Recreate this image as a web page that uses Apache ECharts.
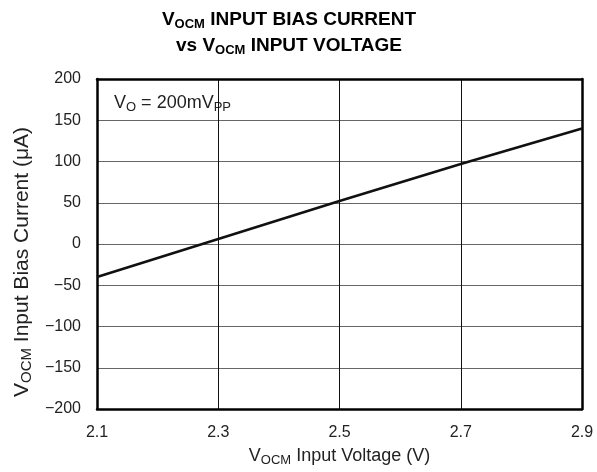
<!DOCTYPE html>
<html>
<head>
<meta charset="utf-8">
<script src="https://cdn.jsdelivr.net/npm/echarts@6/dist/echarts.min.js"></script>
<style>
  html, body { margin: 0; padding: 0; background: #fff; }
  #chart { width: 597px; height: 472px; }
</style>
</head>
<body>
<div id="chart"></div>
<script>
// V_OCM input voltage (V) and the measured input bias current (µA)
const voltage = [2.1, 2.3, 2.5, 2.7, 2.9];
const biasCurrent = [-40, 6, 52, 97, 140];

// Axis ranges and tick steps
const xTicks = { min: 2.1, max: 2.9, step: 0.2 };
const yTicks = { min: -200, max: 200, step: 50 };

const FONT = '"Liberation Sans", Arial, Helvetica, sans-serif';

const chart = echarts.init(document.getElementById('chart'), null, { renderer: 'canvas' });

const titleRich = {
  b: { fontFamily: FONT, fontWeight: 'bold', fontSize: 19, color: '#000', lineHeight: 26 },
  s: { fontFamily: FONT, fontWeight: 'bold', fontSize: 13, color: '#000', lineHeight: 26, padding: [9, 0, 0, 0] }
};

// rich styles for axis names, with a lowered subscript
function nameRich(size) {
  return {
    n: { fontFamily: FONT, fontSize: size, color: '#222', lineHeight: size + 4 },
    s: { fontFamily: FONT, fontSize: Math.round(size * 0.72), color: '#222', lineHeight: size + 4, padding: [Math.round(size * 0.45), 0, 0, 0] }
  };
}

const minusFmt = v => (v < 0 ? '\u2212' + Math.abs(v) : String(v));

const frameLine = { show: true, onZero: false, lineStyle: { color: '#000', width: 2.5 } };

const option = {
  animation: false,
  backgroundColor: '#fff',
  title: {
    text: '{b|V}{s|OCM}{b| INPUT BIAS CURRENT}\n{b|vs V}{s|OCM}{b| INPUT VOLTAGE}',
    left: 284,
    top: 2,
    textAlign: 'center',
    textStyle: { rich: titleRich }
  },
  grid: { left: 97, right: 15, top: 79, bottom: 63 },
  xAxis: [
    {
      type: 'value',
      min: xTicks.min, max: xTicks.max, interval: xTicks.step,
      name: '{n|V}{s|OCM}{n| Input Voltage (V)}',
      nameLocation: 'middle',
      nameGap: 34,
      nameTextStyle: { rich: nameRich(18) },
      axisLine: frameLine,
      axisTick: { show: false },
      axisLabel: {
        margin: 16,
        fontFamily: FONT, fontSize: 16, color: '#222',
        formatter: v => v.toFixed(1)
      },
      splitLine: { show: true, lineStyle: { color: '#111', width: 1 } }
    },
    {
      type: 'value', position: 'top',
      min: xTicks.min, max: xTicks.max, interval: xTicks.step,
      axisLine: frameLine,
      axisTick: { show: false }, axisLabel: { show: false }, splitLine: { show: false }
    }
  ],
  yAxis: [
    {
      type: 'value',
      min: yTicks.min, max: yTicks.max, interval: yTicks.step,
      name: '{n|V}{s|OCM}{n| Input Bias Current (\u03BCA)}',
      nameLocation: 'middle',
      nameRotate: 90,
      nameGap: 62,
      nameTextStyle: { rich: nameRich(21), padding: [0, 36, 0, 0] },
      axisLine: frameLine,
      axisTick: { show: false },
      axisLabel: {
        margin: 16,
        fontFamily: FONT, fontSize: 16, color: '#222',
        formatter: minusFmt
      },
      splitLine: { show: true, lineStyle: { color: '#666', width: 1.2 } }
    },
    {
      type: 'value', position: 'right',
      min: yTicks.min, max: yTicks.max, interval: yTicks.step,
      axisLine: frameLine,
      axisTick: { show: false }, axisLabel: { show: false }, splitLine: { show: false }
    }
  ],
  series: [
    {
      type: 'line',
      data: voltage.map((v, i) => [v, biasCurrent[i]]),
      showSymbol: false,
      lineStyle: { color: '#111', width: 2.6 },
      z: 5
    }
  ],
  graphic: [
    {
      type: 'text',
      left: 114,
      top: 93,
      style: {
        text: '{n|V}{s|O}{n| = 200mV}{s|PP}',
        rich: {
          n: { fontFamily: FONT, fontSize: 18, fill: '#222', lineHeight: 22 },
          s: { fontFamily: FONT, fontSize: 13, fill: '#222', lineHeight: 22, padding: [8, 0, 0, 0] }
        }
      }
    }
  ]
};

chart.setOption(option);
</script>
</body>
</html>
